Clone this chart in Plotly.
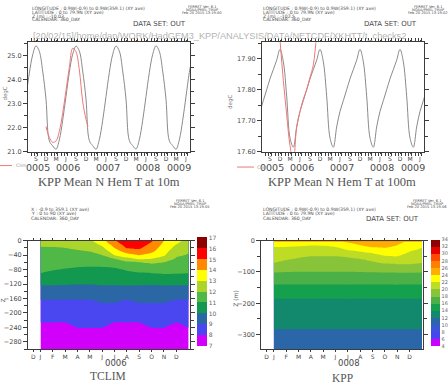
import plotly.graph_objects as go

W, H = 448, 386

# ---------------- DATA ----------------
# Top panels: time in months since 1 Jan 0005 (360_DAY calendar), mid-month samples
t_model = [5.5 + i for i in range(51)]          # Jun 0005 .. Aug 0009
kpp_t10m = [23.28, 24.27, 25.02, 25.40, 25.17, 24.35, 23.18,
            21.46, 21.25, 21.11, 21.50, 22.31, 23.31, 24.30, 25.05, 25.39, 25.18, 24.36, 23.19,
            21.47, 21.26, 21.11, 21.51, 22.30, 23.30, 24.29, 25.04, 25.39, 25.18, 24.36, 23.19,
            21.47, 21.26, 21.12, 21.51, 22.30, 23.30, 24.29, 25.04, 25.40, 25.17, 24.35, 23.18,
            21.46, 21.26, 21.11, 21.50, 22.30, 23.30, 24.29, 25.04]
kpp_t100m = [17.730, 17.765, 17.800, 17.835, 17.865, 17.895, 17.930,
             17.890, 17.780, 17.645, 17.615, 17.680, 17.730, 17.765, 17.800, 17.835, 17.865, 17.895, 17.930,
             17.890, 17.780, 17.645, 17.615, 17.680, 17.730, 17.765, 17.800, 17.835, 17.865, 17.895, 17.930,
             17.890, 17.780, 17.645, 17.615, 17.680, 17.730, 17.765, 17.800, 17.835, 17.865, 17.895, 17.930,
             17.890, 17.780, 17.645, 17.615, 17.680, 17.730, 17.765, 17.800]
t_clim = [11.5, 12.5, 13.5, 14.5, 15.5, 16.5, 17.5, 18.5, 19.5, 20.5, 21.5, 22.5, 23.5, 24.1]
clim_t10m = [22.05, 21.60, 21.40, 21.45, 21.85, 22.60, 23.55, 24.50, 25.30, 25.15, 24.40, 23.10, 22.35, 22.05]
clim_t100m = [17.96, 17.83, 17.72, 17.62, 17.57, 17.68, 17.73, 17.77, 17.80, 17.84, 17.88, 17.97, 18.02, 18.03]

top_month_pos = [8.5 + 3 * i for i in range(16)]
top_month_lab = ['S', 'D', 'M', 'J'] * 4
top_year_pos = [9.05, 18, 30, 42, 51.35]
top_year_lab = ['0005', '0006', '0007', '0008', '0009']

# Bottom panels: months since 1 Jan of the plotted year, mid-month samples (Jan..Dec, Jan)
t_mon = [0.5 + i for i in range(13)]
bot_month_pos = [-0.08] + [0.5 + i for i in range(12)]
bot_month_lab = ['D', 'J', 'F', 'M', 'A', 'M', 'J', 'J', 'A', 'S', 'O', 'N', 'D']

tclim_depth = [0, -10, -20, -30, -40, -50, -60, -75, -90, -110, -130, -150, -170, -190, -220, -240, -260, -300]
tclim_z0 =   [12.5, 12.2, 12.3, 12.6, 12.8, 13.7, 14.9, 15.8, 15.7, 15.1, 14.0, 13.3, 12.7]
tclim_z10 =  [12.17, 12.09, 12.15, 12.36, 12.53, 13.23, 14.45, 15.44, 15.42, 14.83, 13.78, 13.0, 12.5]
tclim_z20 =  [11.93, 11.97, 12.0, 12.12, 12.27, 12.8, 14.0, 15.07, 15.14, 14.5, 13.56, 12.71, 12.3]
tclim_z30 =  [11.8, 11.82, 11.83, 11.9, 12.0, 12.4, 13.5, 14.38, 14.67, 14.17, 13.33, 12.43, 12.1]
tclim_z40 =  [11.67, 11.67, 11.66, 11.69, 11.76, 12.0, 13.0, 13.62, 14.0, 13.67, 13.11, 12.14, 11.91]
tclim_z50 =  [11.53, 11.52, 11.48, 11.49, 11.52, 11.69, 12.0, 12.71, 13.17, 13.0, 12.67, 11.89, 11.73]
tclim_z60 =  [11.4, 11.37, 11.31, 11.29, 11.29, 11.38, 11.6, 11.81, 12.0, 12.17, 12.0, 11.68, 11.55]
tclim_z75 =  [11.2, 11.15, 11.05, 10.97, 10.94, 10.93, 11.0, 11.26, 11.46, 11.46, 11.53, 11.36, 11.27]
tclim_z90 =  [11.0, 10.86, 10.72, 10.65, 10.6, 10.6, 10.62, 10.77, 10.94, 11.0, 11.06, 11.04, 11.0]
tclim_z110 = [10.4, 10.42, 10.3, 10.25, 10.3, 10.35, 10.4, 10.38, 10.42, 10.4, 10.45, 10.4, 10.4]
tclim_z130 = [9.8, 9.78, 9.82, 9.8, 9.77, 9.83, 9.8, 9.85, 9.8, 9.78, 9.82, 9.8, 9.8]
tclim_z150 = [9.3, 9.3, 9.28, 9.3, 9.32, 9.35, 9.36, 9.3, 9.35, 9.36, 9.35, 9.3, 9.3]
tclim_z170 = [8.85, 8.85, 8.85, 8.85, 8.85, 9.05, 9.05, 8.85, 9.05, 9.05, 9.05, 8.85, 8.85]
tclim_z190 = [8.6, 8.58, 8.6, 8.6, 8.6, 8.65, 8.65, 8.6, 8.62, 8.65, 8.65, 8.6, 8.6]
tclim_z220 = [8.1, 8.1, 8.1, 8.15, 8.15, 8.15, 8.1, 8.1, 8.1, 8.15, 8.15, 8.1, 8.12]
tclim_z240 = [7.8, 7.8, 7.8, 8.03, 8.03, 8.03, 7.8, 7.8, 7.8, 8.03, 8.03, 7.8, 8.02]
tclim_z260 = [7.6, 7.6, 7.6, 7.65, 7.65, 7.65, 7.6, 7.6, 7.6, 7.65, 7.65, 7.6, 7.62]
tclim_z300 = [7.3, 7.3, 7.3, 7.3, 7.3, 7.3, 7.3, 7.3, 7.3, 7.3, 7.3, 7.3, 7.3]

kpp_depth = [0, -4, -10, -20, -30, -40, -50, -60, -75, -90, -110, -130, -150, -180, -200, -250, -280, -300, -346]
kpp_z0 =   [28.8] * 13
kpp_z4 =   [22.8, 22.7, 22.8, 22.8, 23.1, 23.6, 24.2, 24.8, 25.0, 24.9, 24.5, 23.6, 22.9]
kpp_z10 =  [22.47, 22.41, 22.43, 22.33, 22.46, 22.94, 23.6, 24.39, 24.67, 24.65, 24.22, 23.28, 22.57]
kpp_z20 =  [22.0, 22.0, 21.89, 21.71, 21.71, 22.0, 22.75, 23.5, 24.1, 24.18, 23.71, 22.75, 22.09]
kpp_z30 =  [21.62, 21.52, 21.35, 21.14, 21.14, 21.33, 22.0, 22.5, 23.11, 23.57, 23.14, 22.25, 21.69]
kpp_z40 =  [21.25, 21.05, 20.81, 20.57, 20.57, 20.67, 21.09, 21.55, 22.0, 22.7, 22.57, 21.75, 21.29]
kpp_z50 =  [20.87, 20.57, 20.27, 20.0, 20.0, 20.0, 20.18, 20.64, 21.2, 21.84, 22.0, 21.25, 20.9]
kpp_z60 =  [20.49, 20.1, 19.78, 19.6, 19.6, 19.6, 19.67, 19.86, 20.4, 21.04, 21.2, 20.75, 20.5]
kpp_z75 =  [19.85, 19.31, 19.11, 19.0, 19.0, 19.0, 19.04, 19.16, 19.43, 19.85, 20.0, 20.0, 19.85]
kpp_z90 =  [18.74, 18.53, 18.44, 18.4, 18.4, 18.4, 18.42, 18.47, 18.57, 18.74, 18.8, 18.8, 18.74]
kpp_z110 = [17.5, 17.48, 17.5, 17.52, 17.5, 17.5, 17.47, 17.5, 17.52, 17.5, 17.5, 17.48, 17.5]
kpp_z130 = [16.5, 16.5, 16.48, 16.5, 16.52, 16.5, 16.5, 16.48, 16.5, 16.5, 16.52, 16.5, 16.5]
kpp_z150 = [15.53, 15.53, 15.55, 15.53, 15.5, 15.53, 15.55, 15.53, 15.53, 15.5, 15.53, 15.53, 15.53]
kpp_z180 = [14.14, 14.14, 14.12, 14.14, 14.15, 14.14, 14.14, 14.12, 14.14, 14.14, 14.15, 14.14, 14.14]
kpp_z200 = [13.66, 13.66, 13.66, 13.65, 13.66, 13.66, 13.67, 13.66, 13.66, 13.65, 13.66, 13.66, 13.66]
kpp_z250 = [12.66] * 13
kpp_z280 = [12.06] * 13
kpp_z300 = [11.62] * 13
kpp_z346 = [10.6] * 13

tclim_levels = list(range(7, 18))
tclim_colors = ['#d000fb', '#4a46f0', '#2b67a5', '#12984f', '#4fb847',
                '#abd52a', '#ffff00', '#ff8a00', '#ff0000', '#8e0000']
kpp_levels = list(range(4, 35, 2))
kpp_colors = ['#cc00ff', '#4646f0', '#3a55d6', '#2a66a8', '#12886c', '#14a04c', '#4cb048',
              '#88c43a', '#bedc24', '#ffff00', '#ffae00', '#ff8000', '#ff4a00', '#e80000', '#8b0000']

# ---------------- FIGURE ----------------
def fx(p):
    return p / W

def fy(p):
    return 1 - p / H

TXT = '#4a4a4a'
FR = '#3c3c3c'
fig = go.Figure()

fig.add_trace(go.Scatter(x=t_model, y=kpp_t10m, mode='lines', xaxis='x', yaxis='y',
                         line=dict(color='#8a8a8a', width=1, shape='spline'), showlegend=False))
fig.add_trace(go.Scatter(x=t_clim, y=clim_t10m, mode='lines', xaxis='x', yaxis='y',
                         line=dict(color='#f07878', width=1, shape='spline'), showlegend=False))
fig.add_trace(go.Scatter(x=t_model, y=kpp_t100m, mode='lines', xaxis='x2', yaxis='y2',
                         line=dict(color='#8a8a8a', width=1, shape='spline'), showlegend=False))
fig.add_trace(go.Scatter(x=t_clim, y=clim_t100m, mode='lines', xaxis='x2', yaxis='y2',
                         line=dict(color='#f07878', width=1, shape='spline'), showlegend=False))

def scale(colors, n):
    pts = [[0.0, '#ffffff']]
    for i, c in enumerate(colors):
        pts.append([(i + 1) / n, c])
    pts.append([1.0, '#ffffff'])
    return pts

tclim_rows = [tclim_z0, tclim_z10, tclim_z20, tclim_z30, tclim_z40, tclim_z50, tclim_z60, tclim_z75,
              tclim_z90, tclim_z110, tclim_z130, tclim_z150, tclim_z170, tclim_z190, tclim_z220,
              tclim_z240, tclim_z260, tclim_z300]
kpp_rows = [kpp_z0, kpp_z4, kpp_z10, kpp_z20, kpp_z30, kpp_z40, kpp_z50, kpp_z60, kpp_z75, kpp_z90,
            kpp_z110, kpp_z130, kpp_z150, kpp_z180, kpp_z200, kpp_z250, kpp_z280, kpp_z300, kpp_z346]

cbfont = dict(family='DejaVu Sans', size=6, color='#666')
fig.add_trace(go.Contour(
    x=t_mon, y=tclim_depth[::-1], z=tclim_rows[::-1], xaxis='x3', yaxis='y3',
    autocontour=False, contours=dict(start=7, end=17, size=1, coloring='fill', showlines=False),
    line=dict(width=0, smoothing=0.5), colorscale=scale(tclim_colors, 11), zmin=6.5, zmax=17.5, zauto=False,
    colorbar=dict(x=fx(197), xanchor='left', y=fy(294), yanchor='middle', thickness=10,
                  lenmode='pixels', len=118.8, xpad=0, ypad=0, outlinewidth=0,
                  tickmode='array', tickvals=tclim_levels, ticks='', tickfont=cbfont),
    hoverinfo='skip'))
fig.add_trace(go.Contour(
    x=t_mon, y=kpp_depth[::-1], z=kpp_rows[::-1], xaxis='x4', yaxis='y4',
    autocontour=False, contours=dict(start=4, end=34, size=2, coloring='fill', showlines=False),
    line=dict(width=0, smoothing=0.5), colorscale=scale(kpp_colors, 16), zmin=3, zmax=35, zauto=False,
    colorbar=dict(x=fx(430.5), xanchor='left', y=fy(295), yanchor='middle', thickness=8.5,
                  lenmode='pixels', len=113.7, xpad=0, ypad=0, outlinewidth=0,
                  tickmode='array', tickvals=kpp_levels, ticks='', tickfont=dict(cbfont, size=5)),
    hoverinfo='skip'))

tickfont = dict(family='DejaVu Sans', size=6.5, color=TXT)
base = dict(showline=True, linecolor=FR, linewidth=1, mirror='ticks', ticks='outside',
            tickcolor=FR, tickwidth=1, showgrid=False, zeroline=False, tickfont=tickfont)

def topx(dom):
    d = dict(base)
    d.update(domain=dom, range=[6.1, 54.7], tickmode='array', tickvals=top_month_pos,
             ticktext=top_month_lab, ticklen=1, tickfont=dict(tickfont, size=6),
             minor=dict(tick0=0, dtick=1, ticks='outside', ticklen=3, tickcolor=FR))
    return d

def botx(dom):
    d = dict(base)
    d.update(domain=dom, range=[-0.51, 12.61], tickmode='array', tickvals=bot_month_pos,
             ticktext=bot_month_lab, ticklen=2, tickfont=dict(tickfont, size=6))
    return d

def yax(dom, rng, vals, fmt, minor_dt, anchor):
    d = dict(base)
    d.update(domain=dom, range=rng, tickmode='array', tickvals=vals, tickformat=fmt, ticklen=4,
             anchor=anchor, minor=dict(dtick=minor_dt, ticks='outside', ticklen=3, tickcolor=FR))
    return d

ytop = [fy(151), fy(39)]
ybot = [fy(352.3), fy(241.7)]
fig.update_layout(
    width=W, height=H, margin=dict(l=0, r=0, t=0, b=0),
    paper_bgcolor='white', plot_bgcolor='white', showlegend=False,
    xaxis=dict(topx([fx(28), fx(190)]), anchor='y'),
    yaxis=yax(ytop, [21.0, 25.55], [21, 22, 23, 24, 25], '.1f', 0.5, 'x'),
    xaxis2=dict(topx([fx(262), fx(424)]), anchor='y2'),
    yaxis2=yax(ytop, [17.60, 17.953], [17.6, 17.7, 17.8, 17.9], '.2f', 0.05, 'x2'),
    xaxis3=dict(botx([fx(28), fx(190)]), anchor='y3'),
    yaxis3=yax(ybot, [-300, 0], [0, -40, -80, -120, -160, -200, -240, -280], 'd', 20, 'x3'),
    xaxis4=dict(botx([fx(261.3), fx(423.3)]), anchor='y4'),
    yaxis4=yax(ybot, [-346, 0], [0, -100, -200, -300], 'd', 50, 'x4'),
)

ann = []
def text(x, y, s, size, color=TXT, family='DejaVu Sans', xanchor='left', angle=0, xref='paper'):
    ann.append(dict(x=x if xref != 'paper' else fx(x), y=fy(y), xref=xref, yref='paper', text=s,
                    showarrow=False, xanchor=xanchor, yanchor='middle', textangle=angle,
                    font=dict(family=family, size=size, color=color)))

small = 4.6
# header blocks
for x0, zlab, stamp, sx in [(30, 'Z (m) : -10.03', 'Feb 20 2015 13:19:00', 202),
                            (261, 'Z (m) : -102.5', 'Feb 20 2015 13:19:02', 428)]:
    text(x0, 5, 'LONGITUDE : 0.9W(-0.9) to 0.9W(359.1) (XY ave)', small)
    text(x0, 8.8, 'LATITUDE : 0 to 79.9N (XY ave)', small)
    text(x0, 12.6, zlab, small)
    text(x0, 16.4, 'CALENDAR: 360_DAY', small)
    text(sx, 3, 'FERRET Ver. 6.1', 3.6, xanchor='center')
    text(sx, 6.2, 'NOAA/PMEL TMAP', 3.6, xanchor='center')
    text(sx, 9.4, stamp, 3.6, xanchor='center')
    text(x0 + 158, 20, 'DATA SET: OUT', 7, xanchor='right')
text(31, 33, '[20/02/15]/home/dan/WORK/HadGEM3_KPP/ANALYSIS/DATA/NETCDF/XKHTT/t_checks2', 9.2,
     color='#b4b4b4', family='Liberation Sans')

text(29, 209.5, 'X : -0.9 to 359.1 (XY ave)', small)
text(29, 213.8, 'Y : 0 to 90 (XY ave)', small)
text(29, 219.5, 'CALENDAR: 360_DAY', small)
text(190, 201, 'FERRET Ver. 6.1', 3.6, xanchor='center')
text(190, 204.2, 'NOAA/PMEL TMAP', 3.6, xanchor='center')
text(190, 207.4, 'Feb 20 2015 13:19:05', 3.6, xanchor='center')
text(261, 209.5, 'LONGITUDE : 0.9W(-0.9) to 0.9W(359.1) (XY ave)', small)
text(261, 214, 'LATITUDE : 0 to 79.9N (XY ave)', small)
text(261, 219.5, 'CALENDAR: 360_DAY', small)
text(427, 201, 'FERRET Ver. 6.1', 3.6, xanchor='center')
text(427, 204.2, 'NOAA/PMEL TMAP', 3.6, xanchor='center')
text(427, 207.4, 'Feb 20 2015 13:19:06', 3.6, xanchor='center')
text(421, 220, 'DATA SET: OUT', 7, xanchor='right')

# axis titles
text(5.5, 92, 'degC', 5.5, color='#777', xanchor='center', angle=-90)
text(231, 100, 'degC', 5.5, color='#777', xanchor='center', angle=-90)
text(2.5, 303, 'Z', 5.5, color='#555', xanchor='center', angle=-90)
text(236, 301, 'Z (m)', 6, color='#555', xanchor='center', angle=-90)

# years
for xr in ['x', 'x2']:
    for p, lab in zip(top_year_pos, top_year_lab):
        text(p, 166.5, lab, 9.5, xanchor='center', xref=xr)
text(6.6, 367, '0006', 8.5, xanchor='center', xref='x3')
text(6.6, 367, '0008', 8.5, xanchor='center', xref='x4')

# legends
text(14, 165, 'Clim', 4.6, color='#999')
text(255, 166.5, 'Clim', 4.6, color='#999')

# titles
serif = 'Liberation Serif'
text(109, 181.5, 'KPP Mean N Hem T at 10m', 12.5, color='#555', family=serif, xanchor='center')
text(342, 181.5, 'KPP Mean N Hem T at 100m', 12.5, color='#555', family=serif, xanchor='center')
text(108, 380, 'TCLIM', 11.5, color='#555', family=serif, xanchor='center')
text(342, 381.5, 'KPP', 11.5, color='#555', family=serif, xanchor='center')

fig.update_layout(annotations=ann, shapes=[
    dict(type='line', xref='paper', yref='paper', x0=0, x1=fx(12), y0=fy(165), y1=fy(165),
         line=dict(color='#f07878', width=1)),
    dict(type='line', xref='paper', yref='paper', x0=fx(237), x1=fx(254), y0=fy(166.5), y1=fy(166.5),
         line=dict(color='#f07878', width=1)),
])

fig.write_html('out.html', config={'displayModeBar': False},
               post_script="document.body.style.margin='0';document.body.style.overflow='hidden';")
